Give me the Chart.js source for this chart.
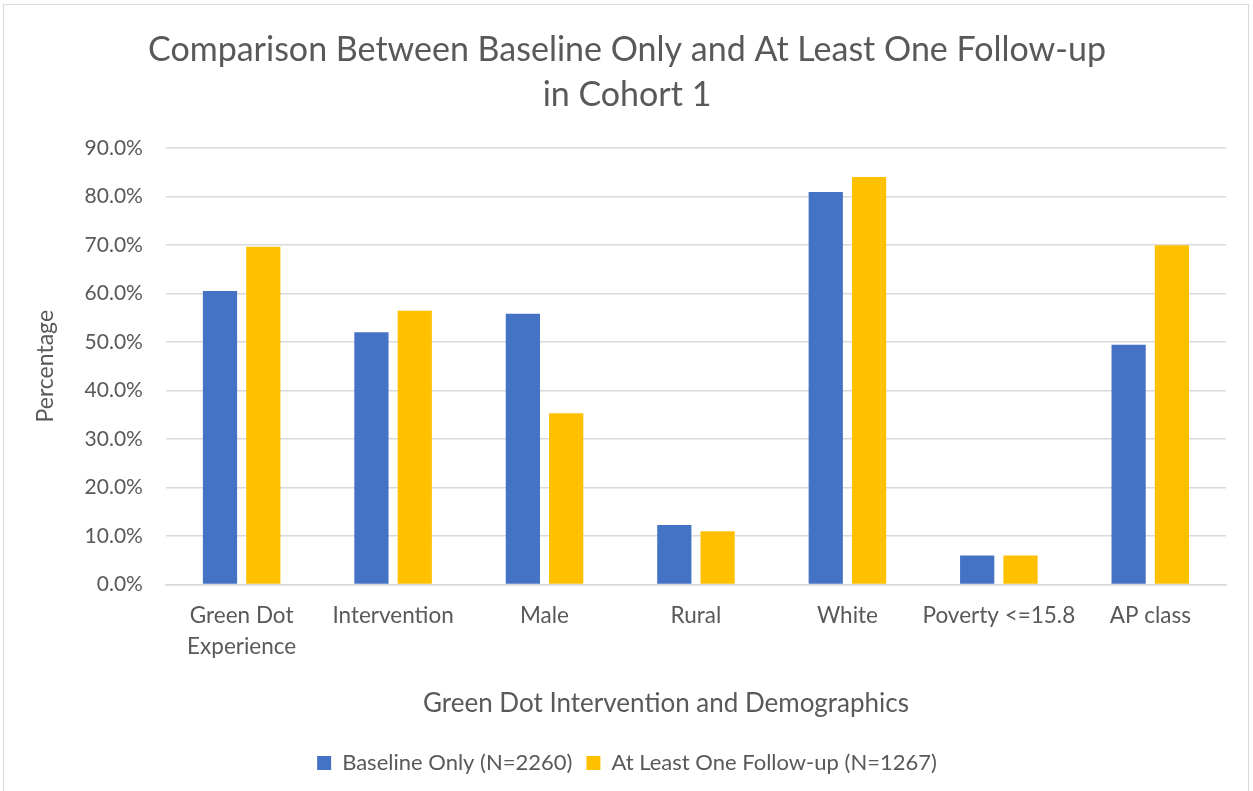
<!DOCTYPE html>
<html>
<head>
<meta charset="utf-8">
<script src="https://cdn.jsdelivr.net/npm/chart.js@4.4.1/dist/chart.umd.min.js"></script>
<style>
html,body{margin:0;padding:0;background:#fff;}
#wrap{position:absolute;left:0;top:0;width:1253px;height:791px;}
#frame{position:absolute;left:3px;top:4px;width:1246px;height:790px;border:1px solid #d9d9d9;box-sizing:border-box;pointer-events:none;}
canvas{position:absolute;left:0;top:0;}
</style>
</head>
<body>
<div id="wrap"><canvas id="c" width="1253" height="791"></canvas><div id="frame"></div></div>
<script>
const categories = [["Green Dot","Experience"],"Intervention","Male","Rural","White","Poverty <=15.8","AP class"];
const baselineOnly = [60.5, 52.0, 55.8, 12.3, 80.9, 6.0, 49.4];
const followUp = [69.6, 56.4, 35.3, 11.0, 84.0, 6.0, 69.9];
const seriesNames = ["Baseline Only (N=2260)", "At Least One Follow-up (N=1267)"];
const titleLines = ["Comparison Between Baseline Only and At Least One Follow-up", "in Cohort 1"];
const xTitle = "Green Dot Intervention and Demographics";
const yTitle = "Percentage";

const FONT = "Lato, 'Open Sans', sans-serif";
const TXT = "#595959";
Chart.defaults.font.family = FONT;
Chart.defaults.color = TXT;

new Chart(document.getElementById('c'), {
  type: 'bar',
  data: {
    labels: categories,
    datasets: [
      {label: seriesNames[0], data: baselineOnly, backgroundColor: '#4472c4', barPercentage: 0.79, categoryPercentage: 0.572},
      {label: seriesNames[1], data: followUp, backgroundColor: '#ffc000', barPercentage: 0.79, categoryPercentage: 0.572}
    ]
  },
  options: {
    responsive: false,
    animation: false,
    layout: {padding: {left: 28, right: 27, top: 28, bottom: 7}},
    plugins: {
      title: {display: true, text: titleLines, color: TXT, font: {size: 34, weight: 'normal', lineHeight: 1.32}, padding: {top: 0, bottom: 30}},
      legend: {position: 'bottom', labels: {boxWidth: 14, boxHeight: 14, font: {size: 22}, color: TXT, padding: 14}},
      tooltip: {enabled: false}
    },
    scales: {
      x: {
        grid: {display: false, drawTicks: false},
        border: {color: '#d9d9d9', width: 1.5},
        ticks: {font: {size: 22.5, lineHeight: 1.36}, color: TXT, padding: 16, maxRotation: 0, autoSkip: false},
        title: {display: true, text: xTitle + '\u00A0'.repeat(9), font: {size: 26}, color: TXT, padding: {top: 10, bottom: 19}}
      },
      y: {
        min: 0, max: 90,
        grid: {color: '#d9d9d9', lineWidth: 1.5, drawTicks: false},
        border: {display: false},
        ticks: {stepSize: 10, font: {size: 21}, color: TXT, padding: 23, callback: v => v.toFixed(1) + '%'},
        title: {display: true, text: yTitle, font: {size: 23}, color: TXT, padding: {bottom: 2}}
      }
    }
  }
});
</script>
</body>
</html>
